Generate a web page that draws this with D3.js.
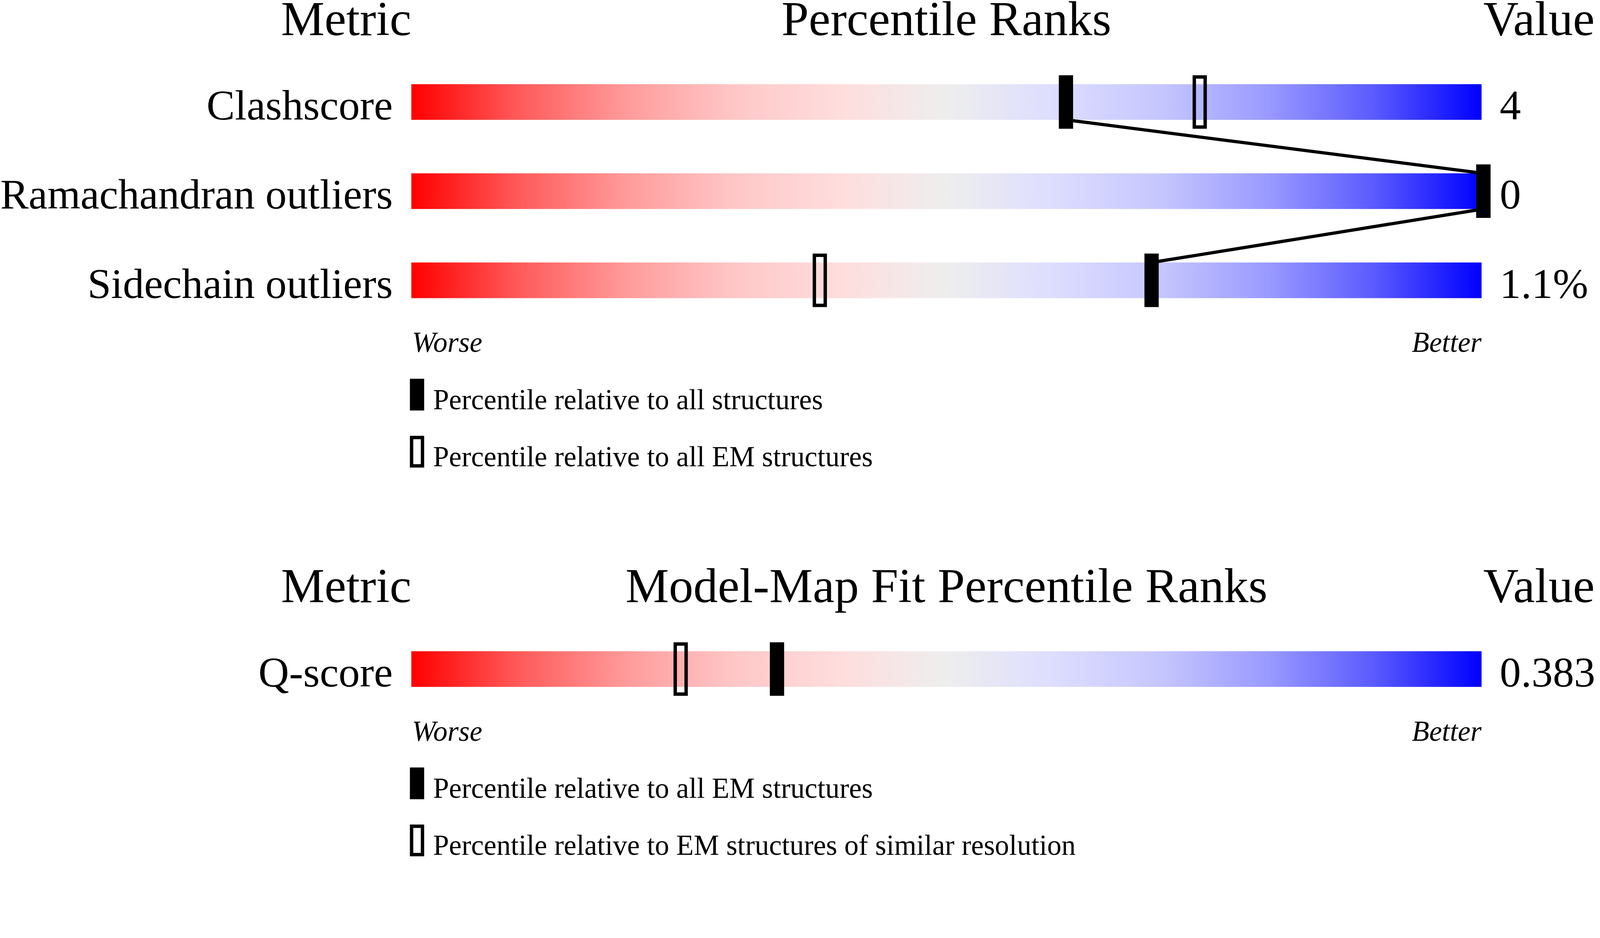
<!DOCTYPE html>
<html lang="en">
<head>
<meta charset="utf-8">
<title>percentile sliders</title>
<script src="https://cdn.jsdelivr.net/npm/d3@7"></script>
<style>
  html, body { margin: 0; padding: 0; width: 100%; height: 100%; overflow: hidden; background: #fff; }
  svg { display: block; }
  svg text { font-family: "Liberation Serif", "Times New Roman", serif; fill: #000; }
  .head { font-size: 137px; }
  .row { font-size: 119px; }
  .small { font-size: 80px; }
  .ital { font-size: 80px; font-style: italic; }
</style>
</head>
<body>
<script>
// ---- data ----
var geoMetrics = ["Clashscore", "Ramachandran outliers", "Sidechain outliers"];
var geoValues = ["4", "0", "1.1%"];
var geoPctAll = [61, 100, 69];      // filled marker: relative to all structures
var geoPctEM = [73.5, 100, 38];     // open marker: relative to all EM structures
var geoLegend = ["Percentile relative to all structures", "Percentile relative to all EM structures"];

var fitMetrics = ["Q-score"];
var fitValues = ["0.383"];
var fitPctEM = [34];                // filled marker: relative to all EM structures
var fitPctRes = [25];               // open marker: EM structures of similar resolution
var fitLegend = ["Percentile relative to all EM structures", "Percentile relative to EM structures of similar resolution"];

var w = 4485, h = 2402;
var barLeft = 1153, barRight = 4153;
var rowStep = 250, barH = 100;
var markW = 40, markH = 150, markShift = 5;

var gradStops = [
  [0, "#ff0000"], [0.1, "#ff5a5a"], [0.2, "#ff9a9a"], [0.3, "#ffc6c6"], [0.4, "#ffdddd"],
  [0.5, "#eeeeee"], [0.6, "#ddddff"], [0.7, "#c6c6ff"], [0.8, "#9a9aff"], [0.9, "#5a5aff"], [1, "#0000ff"]
];

// viewBox so the drawing always fills the window
var svg = d3.select("body").append("svg")
  .attr("width", "100%")
  .attr("height", "100%")
  .attr("viewBox", "0 0 " + w + " " + h)
  .attr("preserveAspectRatio", "xMinYMin meet");

var grad = svg.append("defs").append("linearGradient")
  .attr("id", "rb")
  .attr("x1", "0%").attr("x2", "100%").attr("y1", "0%").attr("y2", "0%");
grad.selectAll("stop").data(gradStops).enter().append("stop")
  .attr("offset", function(d) { return d[0]; })
  .attr("stop-color", function(d) { return d[1]; });

var x = d3.scaleLinear().domain([0, 100]).range([barLeft, barRight]);

function section(top, title, metrics, values, filled, open, legend, joinLine) {
  var n = metrics.length;
  var pad = 1 - barH / rowStep;   // 0.6
  var y = d3.scaleBand()
    .domain(metrics)
    .range([top - rowStep * pad / 2, top - rowStep * pad / 2 + rowStep * n])
    .paddingInner(pad)
    .paddingOuter(pad / 2);
  var g = svg.append("g");

  // headers
  g.append("text").attr("class", "head").attr("x", barLeft).attr("y", top - 138)
    .attr("text-anchor", "end").text("Metric");
  g.append("text").attr("class", "head").attr("x", (barLeft + barRight) / 2).attr("y", top - 138)
    .attr("text-anchor", "middle").text(title);
  g.append("text").attr("class", "head").attr("x", barRight + 5).attr("y", top - 138)
    .text("Value");

  // bars
  g.selectAll(".bar").data(metrics).enter().append("rect")
    .attr("class", "bar")
    .attr("x", x(0))
    .attr("y", function(d) { return y(d); })
    .attr("width", x(100) - x(0))
    .attr("height", y.bandwidth())
    .attr("fill", "url(#rb)");

  g.selectAll(".lab").data(metrics).enter().append("text")
    .attr("class", "row")
    .attr("x", barLeft - 52)
    .attr("y", function(d) { return y(d) + y.bandwidth() - 1; })
    .attr("text-anchor", "end")
    .text(function(d) { return d; });

  g.selectAll(".val").data(values).enter().append("text")
    .attr("class", "row")
    .attr("x", barRight + 51)
    .attr("y", function(d, i) { return y(metrics[i]) + y.bandwidth() - 1; })
    .text(function(d) { return d; });

  // line joining the filled markers
  if (joinLine && n > 1) {
    var pts = [];
    metrics.forEach(function(m, i) {
      var cx = x(filled[i]) + markShift;
      pts.push([cx, y(m)]);
      pts.push([cx, y(m) + y.bandwidth()]);
    });
    g.append("path")
      .attr("d", d3.line()(pts.slice(1, pts.length - 1)))
      .attr("fill", "none")
      .attr("stroke", "#000")
      .attr("stroke-width", 9);
  }

  // open markers
  g.selectAll(".open").data(open).enter().append("rect")
    .attr("x", function(d) { return x(d) + markShift - markW / 2 + 4.75; })
    .attr("y", function(d, i) { return y(metrics[i]) + barH / 2 - markH / 2 + 4.75; })
    .attr("width", markW - 9.5)
    .attr("height", markH - 9.5)
    .attr("fill", "none")
    .attr("stroke", "#000")
    .attr("stroke-width", 9.5);

  // filled markers
  g.selectAll(".fill").data(filled).enter().append("rect")
    .attr("x", function(d) { return x(d) + markShift - markW / 2; })
    .attr("y", function(d, i) { return y(metrics[i]) + barH / 2 - markH / 2; })
    .attr("width", markW)
    .attr("height", markH)
    .attr("fill", "#000");

  var bottom = y(metrics[n - 1]) + y.bandwidth();

  g.append("text").attr("class", "ital").attr("x", barLeft + 2).attr("y", bottom + 151).text("Worse");
  g.append("text").attr("class", "ital").attr("x", barRight).attr("y", bottom + 151)
    .attr("text-anchor", "end").text("Better");

  // legend
  var lg = g.selectAll(".leg").data(legend).enter().append("g")
    .attr("transform", function(d, i) { return "translate(0," + (bottom + 226 + i * 160) + ")"; });
  lg.append("rect")
    .attr("x", function(d, i) { return i == 0 ? 1149 : 1149 + 4.75; })
    .attr("y", function(d, i) { return i == 0 ? 0 : 4.75; })
    .attr("width", function(d, i) { return i == 0 ? 40 : 40 - 9.5; })
    .attr("height", function(d, i) { return i == 0 ? 89 : 89 - 9.5; })
    .attr("fill", function(d, i) { return i == 0 ? "#000" : "none"; })
    .attr("stroke", function(d, i) { return i == 0 ? "none" : "#000"; })
    .attr("stroke-width", 9.5);
  lg.append("text").attr("class", "small").attr("x", 1214).attr("y", 85)
    .text(function(d) { return d; });
}

section(236, "Percentile Ranks", geoMetrics, geoValues, geoPctAll, geoPctEM, geoLegend, true);
section(1826, "Model-Map Fit Percentile Ranks", fitMetrics, fitValues, fitPctEM, fitPctRes, fitLegend, false);
</script>
</body>
</html>
